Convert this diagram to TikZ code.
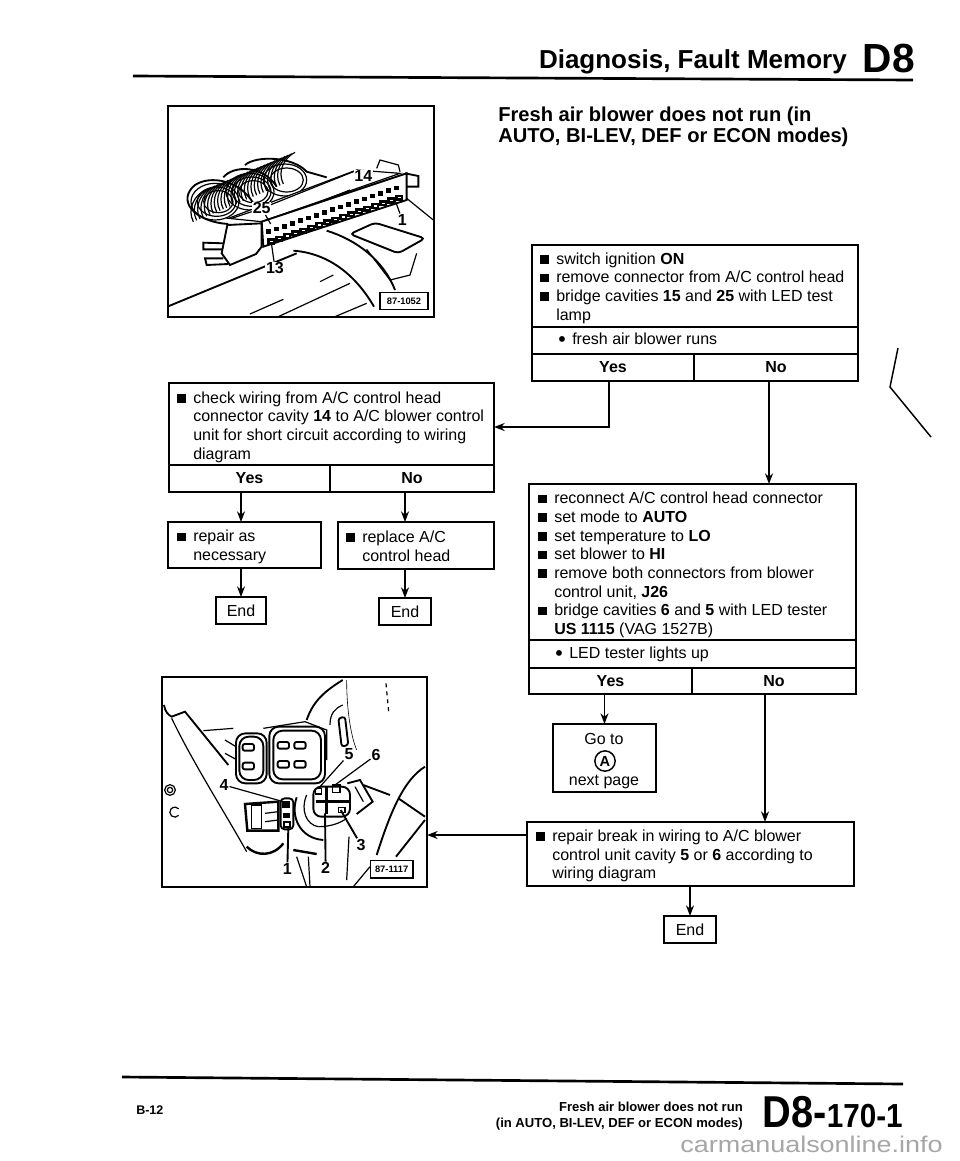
\documentclass[tikz,border=0pt]{standalone}
\usepackage{fontspec}
\setmainfont{Liberation Sans}
\usetikzlibrary{arrows.meta}
\newcommand{\sqbul}{\makebox[12pt][l]{\rule[0.3pt]{6.5pt}{6.5pt}}}
\newcommand{\sqind}{\hspace*{12pt}}
\newcommand{\rndbul}{\makebox[10.5pt][l]{\raisebox{-1.6pt}{\fontsize{16}{14}\selectfont\textbullet}}}
\tikzset{
  cell/.style 2 args={draw,line width=1.3pt,anchor=north west,inner sep=0pt,outer sep=0pt,
    minimum width=#1*0.75pt,minimum height=#2*0.75pt,font=\fontsize{12}{14}\selectfont},
  txt/.style={anchor=west,align=left,inner sep=0pt,font=\fontsize{12}{14}\selectfont},
  flow/.style={line width=1.1pt,-{Stealth[length=8pt,width=6pt]}},
  wire/.style={line width=0.9pt},
  hair/.style={line width=0.45pt},
  heavy/.style={line width=1.4pt},
  num/.style={inner sep=0.6pt,fill=white,font=\bfseries\fontsize{12}{12}\selectfont},
  tag/.style={draw,line width=0.9pt,minimum width=36pt,minimum height=13pt,inner sep=0pt,
    font=\bfseries\fontsize{7}{7}\selectfont}
}
\begin{document}
\begin{tikzpicture}[x=0.75pt,y=-0.75pt]
        \useasboundingbox (0,0) rectangle (960,1161);

        \coordinate (ruletopa) at (133,76);
        \coordinate (ruletopb) at (913,80);
        \coordinate (rulebota) at (122,1077);
        \coordinate (rulebotb) at (903,1084);
        \draw[line width=2pt] (ruletopa) -- (ruletopb);
        \draw[line width=2pt] (rulebota) -- (rulebotb);

        \node[anchor=base east,inner sep=0pt,font=\bfseries\fontsize{19.5}{20}\selectfont] (headtitle) at (847,68) {Diagnosis, Fault Memory};
        \node[anchor=base east,inner sep=0pt,font=\bfseries\fontsize{30.5}{31}\selectfont] (headcode) at (915,72) {D8};
        \node[anchor=west,align=left,inner sep=0pt,font=\bfseries\fontsize{15.1}{15.75}\selectfont] (headline) at (498,127) {Fresh air blower does not run (in\\AUTO, BI-LEV, DEF or ECON modes)};

        % top right chart
        \node[cell={326}{82}] (topbox) at (532,245) {};
        \node[txt] (toptext) at (540,288) {\sqbul switch ignition {\bfseries ON}\\\sqbul remove connector from A/C control head\\\sqbul bridge cavities {\bfseries 15} and {\bfseries 25} with LED test\\\sqind lamp};
        \node[cell={326}{27}] (topask) at (532,327) {};
        \node[txt] (topasktext) at (558,340) {\rndbul fresh air blower runs};
        \node[cell={162}{27}] (topyes) at (532,354) {\bfseries Yes};
        \node[cell={164}{27}] (topno) at (694,354) {\bfseries No};

        % left chart
        \node[cell={325}{82}] (checkbox) at (169,383) {};
        \node[txt] (checktext) at (177,427) {\sqbul check wiring from A/C control head\\\sqind connector cavity {\bfseries 14} to A/C blower control\\\sqind unit for short circuit according to wiring\\\sqind diagram};
        \node[cell={161}{27}] (checkyes) at (169,465) {\bfseries Yes};
        \node[cell={164}{27}] (checkno) at (330,465) {\bfseries No};
        \node[cell={153}{46}] (repairbox) at (168,522) {};
        \node[txt] (repairtext) at (177,547) {\sqbul repair as\\\sqind necessary};
        \node[cell={156}{47}] (replacebox) at (338,522) {};
        \node[txt] (replacetext) at (346,546) {\sqbul replace A/C\\\sqind control head};
        \node[cell={50}{27}] (enda) at (216,597) {End};
        \node[cell={52}{27}] (endb) at (379,598) {End};

        % lower right chart
        \node[cell={327}{156}] (setbox) at (529,484) {};
        \node[txt] (settext) at (538,565) {\sqbul reconnect A/C control head connector\\\sqbul set mode to {\bfseries AUTO}\\\sqbul set temperature to {\bfseries LO}\\\sqbul set blower to {\bfseries HI}\\\sqbul remove both connectors from blower\\\sqind control unit, {\bfseries J26}\\\sqbul bridge cavities {\bfseries 6} and {\bfseries 5} with LED tester\\\sqind {\bfseries US 1115} (VAG 1527B)};
        \node[cell={327}{28}] (lightask) at (529,640) {};
        \node[txt] (lightasktext) at (555,654) {\rndbul LED tester lights up};
        \node[cell={163}{26}] (lightyes) at (529,668) {\bfseries Yes};
        \node[cell={164}{26}] (lightno) at (692,668) {\bfseries No};
        \node[cell={103}{68}] (gotobox) at (553,724) {};
        \node[txt,anchor=base] (gototext) at (604,744) {Go to};
        \node[circle,draw,line width=1.1pt,inner sep=1.5pt,font=\bfseries\fontsize{11}{11}\selectfont] (gotomark) at (605,761) {A};
        \node[txt,anchor=base] (gotopage) at (604,785) {next page};
        \node[cell={327}{64}] (breakbox) at (527,822) {};
        \node[txt] (breaktext) at (536,856) {\sqbul repair break in wiring to A/C blower\\\sqind control unit cavity {\bfseries 5} or {\bfseries 6} according to\\\sqind wiring diagram};
        \node[cell={52}{27}] (endc) at (664,916) {End};

        % photo frames
        \node[cell={266}{211}] (photoa) at (168,106) {};
        \node[cell={265}{210}] (photob) at (162,677) {};

        % connectors
        \coordinate (topyestap) at (609,381);
        \coordinate (checkin) at (494,427);
        \coordinate (topnotap) at (769,381);
        \coordinate (lightnotap) at (765,694);
        \coordinate (breakout) at (527,835);
        \draw[flow] (topyestap) |- (checkin);
        \draw[flow] (topnotap) -- (topnotap |- setbox.north);
        \draw[flow] (enda.north |- checkyes.south) -- (enda.north |- repairbox.north);
        \draw[flow] (endb.north |- checkno.south) -- (endb.north |- replacebox.north);
        \draw[flow] (enda.north |- repairbox.south) -- (enda.north);
        \draw[flow] (endb.north |- replacebox.south) -- (endb.north);
        \draw[flow] (gotobox.north |- lightyes.south) -- (gotobox.north);
        \draw[flow] (lightnotap) -- (lightnotap |- breakbox.north);
        \draw[flow] (breakout) -- (breakout -| photob.east);
        \draw[flow] (endc.north |- breakbox.south) -- (endc.north);

        % photo of connector, in crop pixels
        \begin{scope}[shift={(150,90)},x=0.25pt,y=-0.25pt]
        \draw[heavy] (235,402) .. controls (130,395) and (80,330) .. (135,285) .. controls (180,255) and (270,270) .. (310,340);
        \draw[heavy] (220,262) .. controls (250,225) and (340,225) .. (380,290);
        \draw[heavy] (285,225) .. controls (320,195) and (430,200) .. (470,245) -- (530,262);
        \foreach \cx/\cy/\ra/\rb in {195/335/72/55,200/335/58/44,205/335/44/33,300/305/72/55,305/305/58/44,310/305/44/33,405/270/65/48,410/270/50/36}
          \draw[wire] (\cx,\cy) ellipse[x radius=\ra,y radius=\rb];
        \foreach \wx in {130,140,...,400}
          \draw[wire] (\wx,{450-0.42*\wx}) .. controls ({\wx-20},{410-0.42*\wx}) and ({\wx+5},{370-0.42*\wx}) .. ({\wx+35},{355-0.42*\wx});
        \draw[wire,fill=white] (235,385) -- (620,240) -- (750,250) -- (335,395) -- cycle;
        \draw[wire] (360,345) -- (610,245);
        \draw[wire] (365,392) -- (600,300);
        \draw[wire,fill=white] (680,235) -- (690,210) -- (745,225) -- (750,245);
        \draw[heavy,fill=white] (765,250) -- (805,258) -- (805,290) -- (770,290);
        \draw[heavy,fill=white] (335,395) -- (770,250) -- (770,330) -- (340,470) -- cycle;
        \foreach \pn in {0,...,16} {
          \fill ({348+\pn*24},{418-\pn*8.2}) rectangle ({362+\pn*24},{432-\pn*8.2});
          \draw[line width=1.8pt] ({356+\pn*24},{449-\pn*8.2}) rectangle ({372+\pn*24},{460-\pn*8.2});
        }
        \draw[heavy,fill=white] (232,405) -- (335,400) -- (335,470) -- (318,492) -- (240,525) -- (215,490) -- cycle;
        \draw[heavy] (222,460) -- (160,458) -- (160,478) -- (218,478);
        \draw[heavy] (220,505) -- (165,505) -- (170,525) -- (235,522);
        \draw[heavy] (52,650) -- (440,490);
        \draw[heavy] (430,482) .. controls (540,490) and (620,560) .. (672,650);
        \draw[heavy] (530,422) .. controls (620,450) and (700,510) .. (735,600);
        \draw[heavy,fill=white,rounded corners=3pt] (600,432) -- (675,398) -- (825,445) -- (745,490) -- cycle;
        \draw[wire] (650,478) -- (720,570) -- (780,555) -- (800,490);
        \draw[wire] (300,672) -- (400,628);
        \draw[wire] (385,680) -- (600,580);
        \draw[wire] (510,575) -- (550,555);
        \draw[wire] (555,680) -- (650,640);
        \draw[wire] (770,325) -- (850,390);
        \node[num] (capfourteen) at (640,258) {14};
        \node[num] (captwentyfive) at (335,355) {25};
        \node[num] (capone) at (757,390) {1};
        \node[num] (capthirteen) at (375,535) {13};
        \draw[wire] (capone) -- (735,330);
        \draw[wire] (capthirteen) -- (365,465);
        \draw[wire] (captwentyfive) -- (245,385);
        \draw[wire] (captwentyfive) -- (362,402);
        \node[tag,fill=white] (tagone) at (762,633) {87-1052};
        \end{scope}

        % photo of blower unit, in crop pixels
        \begin{scope}[shift={(150,670)},x=0.25pt,y=-0.25pt]
        \draw[heavy] (42,105) .. controls (45,125) and (55,135) .. (65,140) -- (105,125) -- (235,285);
        \draw[wire] (65,145) .. controls (130,280) and (220,420) .. (290,545);
        \draw[wire] (160,182) -- (250,175);
        \draw[wire] (225,210) -- (258,230);
        \draw[wire] (225,250) -- (258,268);
        \draw[wire] (340,175) -- (465,155) -- (530,180) -- (530,270);
        \draw[heavy] (470,150) .. controls (490,90) and (530,60) .. (578,30);
        \draw[wire] (540,165) .. controls (540,130) and (555,115) .. (578,105);
        \draw[heavy,rounded corners=2pt] (565,145) -- (585,140) -- (595,225) -- (575,230) -- cycle;
        \draw[hair] (590,30) .. controls (590,110) and (600,190) .. (620,240);
        \draw[wire,dashed] (708,40) -- (716,125);
        \foreach \rx/\ry/\sx/\sy in {258/190/350/340,268/200/340/330,358/170/525/340,370/182/513/328}
          \draw[heavy,rounded corners=7pt] (\rx,\ry) rectangle (\sx,\sy);
        \foreach \px/\py in {295/232,295/288,400/226,450/226,400/283,450/283}
          \draw[heavy,rounded corners=1.5pt] ({\px-17},{\py-10}) rectangle ({\px+17},{\py+10});
        \draw[line width=1.8pt] (285,402) -- (385,395) -- (385,482) -- (292,482) -- cycle;
        \draw[wire] (305,405) rectangle (335,475);
        \draw[wire] (345,430) -- (385,425);
        \draw[wire] (345,455) -- (385,450);
        \draw[heavy,rounded corners=3pt] (392,385) rectangle (430,478);
        \fill (396,392) rectangle (420,415);
        \fill (400,430) rectangle (420,445);
        \draw[heavy] (402,455) rectangle (420,470);
        \draw[heavy,rounded corners=6pt] (490,350) rectangle (600,440);
        \draw[line width=2.6pt] (497,395) -- (598,395);
        \draw[line width=2.6pt] (530,350) -- (530,432);
        \draw[wire] (497,355) rectangle (515,372);
        \draw[wire] (548,345) rectangle (570,368);
        \draw[wire] (565,412) rectangle (585,428);
        \draw[heavy] (592,340) -- (630,330) -- (668,395) -- (620,432);
        \draw[wire] (615,350) -- (640,395);
        \draw[heavy] (440,382) .. controls (420,440) and (450,505) .. (520,510);
        \draw[wire] (470,375) .. controls (450,420) and (470,465) .. (505,470);
        \draw[wire] (505,470) .. controls (540,470) and (570,460) .. (590,445);
        \draw[line width=1.8pt] (290,530) .. controls (320,560) and (370,560) .. (400,520);
        \draw[line width=1.8pt] (430,540) -- (500,552);
        \draw[wire] (440,560) -- (470,650);
        \draw[wire] (475,560) -- (480,650);
        \draw[heavy] (640,345) -- (720,375);
        \draw[heavy] (825,290) .. controls (760,330) and (720,430) .. (680,555);
        \draw[heavy] (825,450) -- (738,560);
        \draw[heavy] (745,385) -- (825,440);
        \draw[wire] (597,500) -- (590,630);
        \draw[wire] (610,650) -- (660,590);
        \draw[wire] (60,360) circle[radius=16];
        \draw[wire] (60,360) circle[radius=8];
        \draw[wire] (86,436) arc[start angle=40,end angle=320,radius=15];
        \node[num] (capfive) at (597,253) {5};
        \node[num] (capsix) at (678,255) {6};
        \node[num] (capfour) at (222,345) {4};
        \node[num] (capthree) at (633,525) {3};
        \node[num] (captwo) at (527,595) {2};
        \node[num] (caponeb) at (412,597) {1};
        \draw[wire] (capfive) -- (510,350);
        \draw[wire] (capsix) -- (555,345);
        \draw[wire] (capfour) -- (400,395);
        \draw[heavy] (caponeb) -- (415,470);
        \draw[heavy] (captwo) -- (525,430);
        \draw[heavy] (capthree) -- (572,420);
        \node[tag,fill=white,minimum width=32pt] (tagtwo) at (725,598) {87-1117};
        \end{scope}

        \draw[line width=1.1pt] (898,348) -- (890,387) -- (931,437);

        % footer
        \node[anchor=base west,inner sep=0pt,font=\bfseries\fontsize{9.4}{10}\selectfont] (footpage) at (136,1114) {B-12};
        \node[anchor=base east,align=right,inner sep=0pt,font=\bfseries\fontsize{9.8}{12}\selectfont] (foottitle) at (743,1127) {Fresh air blower does not run\\(in AUTO, BI-LEV, DEF or ECON modes)};
        \node[anchor=base east,inner sep=0pt,font=\bfseries] (footcode) at (903,1127) {\scalebox{0.89}[1]{{\fontsize{33.5}{34}\selectfont D8-}{\fontsize{25}{26}\selectfont 170-1}}};
        \node[anchor=base east,inner sep=0pt,text=gray!70] (footsite) at (943,1152) {\scalebox{1.19}[1]{\fontsize{17}{18}\selectfont carmanualsonline.info}};
    \end{tikzpicture}
\end{document}
